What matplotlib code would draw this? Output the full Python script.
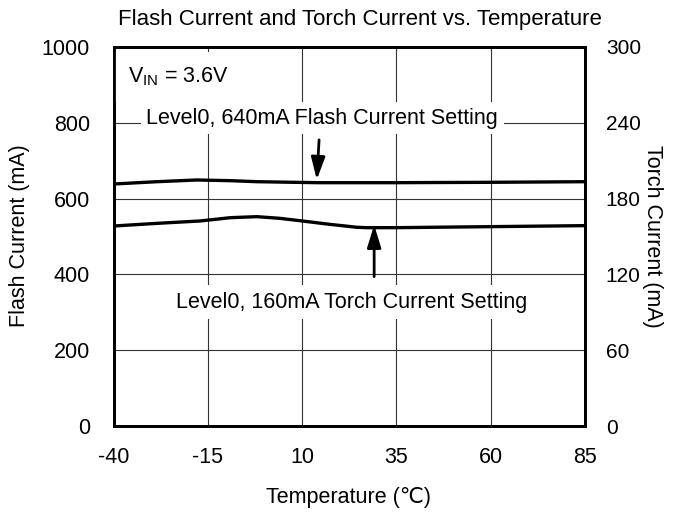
import matplotlib
matplotlib.use("Agg")
import matplotlib.pyplot as plt

plt.rcParams['font.family'] = ['Liberation Sans', 'DejaVu Sans']
plt.rcParams['axes.unicode_minus'] = False

# Data
flash_temp = [-40, -28.5, -18, -9, -2, 14, 35, 60, 85]
flash_ma = [638.5, 644.6, 649.1, 647.3, 644.6, 642.0, 642.0, 643.0, 644.6]

torch_temp = [-40, -28.5, -17, -9, -2, 4, 10, 17.4, 24.5, 27, 35, 60, 85]
torch_ma = [158.3, 160.4, 162.3, 164.9, 165.7, 164.4, 162.3, 159.6, 157.3, 157.0, 157.0, 157.8, 158.6]

x_ticks = [-40, -15, 10, 35, 60, 85]
left_ticks = [0, 200, 400, 600, 800, 1000]
right_ticks = [0, 60, 120, 180, 240, 300]

title = "Flash Current and Torch Current vs. Temperature"
flash_label = "Level0, 640mA Flash Current Setting"
torch_label = "Level0, 160mA Torch Current Setting"

FS = 15.5

fig = plt.figure(figsize=(6.76, 5.14), dpi=100)
ax = fig.add_axes([113.5/676, 88/514, (585-113.5)/676, (426-47)/514])
ax2 = ax.twinx()

ax.set_xlim(-40, 85)
ax.set_ylim(0, 1000)
ax2.set_ylim(0, 300)
ax.set_xticks(x_ticks)
ax.set_yticks(left_ticks)
ax2.set_yticks(right_ticks)
ax.grid(True, color='#333333', lw=0.8)
ax.set_axisbelow(True)

for a in (ax, ax2):
    for s in a.spines.values():
        s.set_linewidth(2.0)
        s.set_color('black')
ax.tick_params(axis='both', length=0, labelsize=FS)
ax.tick_params(axis='y', pad=17)
ax.tick_params(axis='x', pad=15)
ax2.tick_params(axis='y', length=0, labelsize=15, pad=15)

ax.plot(flash_temp, flash_ma, color='black', lw=2.4, zorder=3, solid_joinstyle='round')
ax2.plot(torch_temp, torch_ma, color='black', lw=2.4, zorder=3, solid_joinstyle='round')

# Labels with white boxes (hide grid behind)
bbox = dict(facecolor='white', edgecolor='none', pad=4)
ax.text(-36.2, 921, r"V$_{\mathregular{IN}}$ = 3.6V", fontsize=FS, ha='left', va='center',
        bbox=dict(facecolor='white', edgecolor='none', pad=10), zorder=4)
ax.text(15.3, 812, flash_label, fontsize=FS, ha='center', va='center', bbox=bbox, zorder=4)
ax.text(23.0, 327, torch_label, fontsize=FS, ha='center', va='center',
        bbox=dict(facecolor='white', edgecolor='none', pad=5), zorder=4)

arrow = dict(arrowstyle='-|>,head_length=0.9,head_width=0.28', color='black', lw=2.0,
             mutation_scale=15, shrinkA=0, shrinkB=0)
ax.annotate("", xy=(13.9, 650), xytext=(14.5, 755), arrowprops=arrow, zorder=5)
ax.annotate("", xy=(29.1, 530), xytext=(29.1, 394), arrowprops=arrow, zorder=5)

fig.text(360/676, 1 - 20/514, title, fontsize=16, ha='center', va='center')
fig.text(349/676, 1 - 497/514, "Temperature (℃)", fontsize=FS, ha='center', va='center')
fig.text(20/676, 1 - 236/514, "Flash Current (mA)", fontsize=FS, ha='center', va='center', rotation=90)
fig.text(653/676, 1 - 236/514, "Torch Current (mA)", fontsize=FS, ha='center', va='center', rotation=-90)

fig.savefig("out.png", dpi=100)
